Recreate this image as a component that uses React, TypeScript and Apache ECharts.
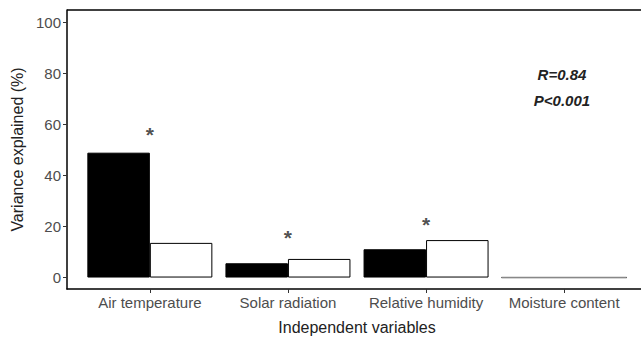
import React, { useEffect, useRef } from "react";
import * as echarts from "echarts";

const categories = ["Air temperature", "Solar radiation", "Relative humidity", "Moisture content"];
const seriesA = [49.0, 5.6, 11.1, 0];
const seriesB = [13.6, 7.3, 14.7, 0];
const starValues: (number | null)[] = [56.9, 16.6, 21.7, null];
const yTicks = [0, 20, 40, 60, 80, 100];
const annotations = ["R=0.84", "P<0.001"];

export default function App() {
  const ref = useRef<HTMLDivElement>(null);
  useEffect(() => {
    document.body.style.margin = "0";
    const chart = echarts.init(ref.current!, null, { renderer: "svg" });
    const pos = categories.map((_, i) => i + 1);
    chart.setOption({
      animation: false,
      textStyle: { fontFamily: "Liberation Sans, Arial, sans-serif" },
      grid: { left: 67, top: 10, width: 580, height: 279, containLabel: false, outerBoundsMode: "none" },
      xAxis: {
        type: "value",
        min: 0.4,
        max: 4.6,
        splitLine: { show: false },
        axisLine: { show: true, onZero: false, lineStyle: { color: "#000", width: 1.5 } },
        axisTick: { show: true, customValues: pos, length: 4, lineStyle: { color: "#333", width: 1 } },
        axisLabel: {
          customValues: pos,
          formatter: (v: number) => categories[Math.round(v) - 1] ?? "",
          color: "#4d4d4d",
          fontSize: 15,
          margin: 6,
        },
        name: "Independent variables",
        nameLocation: "middle",
        nameGap: 30,
        nameTextStyle: { color: "#222", fontSize: 16 },
      },
      yAxis: {
        type: "value",
        min: -4.5,
        max: 105,
        splitLine: { show: false },
        axisLine: { show: true, onZero: false, lineStyle: { color: "#000", width: 1.5 } },
        axisTick: { show: true, customValues: yTicks, length: 4, lineStyle: { color: "#333", width: 1 } },
        axisLabel: { customValues: yTicks, color: "#4d4d4d", fontSize: 15, margin: 6 },
        name: "Variance explained (%)",
        nameLocation: "middle",
        nameGap: 39,
        nameTextStyle: { color: "#222", fontSize: 16 },
      },
      graphic: [
        {
          type: "line",
          shape: { x1: 67, y1: 10, x2: 641, y2: 10 },
          style: { stroke: "#000", lineWidth: 1.5 },
        },
        {
          type: "text",
          x: 562,
          y: 74,
          style: {
            text: annotations[0],
            font: "italic bold 15px Liberation Sans, Arial, sans-serif",
            fill: "#222",
            align: "center",
            verticalAlign: "middle",
          },
        },
        {
          type: "text",
          x: 562,
          y: 100,
          style: {
            text: annotations[1],
            font: "italic bold 15px Liberation Sans, Arial, sans-serif",
            fill: "#222",
            align: "center",
            verticalAlign: "middle",
          },
        },
      ],
      series: [
        {
          type: "bar",
          data: seriesA.map((v, i) => [pos[i], v]),
          barWidth: 62.5,
          barGap: "0%",
          itemStyle: { color: "#000", borderColor: "#000", borderWidth: 1 },
        },
        {
          type: "bar",
          data: seriesB.map((v, i) => [pos[i], v]),
          barWidth: 62.5,
          barGap: "0%",
          itemStyle: { color: "#fff", borderColor: "#000", borderWidth: 1 },
        },
        {
          type: "scatter",
          data: starValues.map((v, i) => (v == null ? null : [pos[i], v])).filter((d) => d),
          symbolSize: 0,
          label: {
            show: true,
            position: "inside",
            formatter: "*",
            fontSize: 21,
            fontWeight: "bold",
            color: "#222",
            offset: [0, 2],
          },
        },
        {
          type: "line",
          data: [[3.547, 0], [4.453, 0]],
          symbol: "none",
          lineStyle: { color: "#888", width: 1.5 },
          z: 5,
        },
      ],
    });
    return () => chart.dispose();
  }, []);
  return <div ref={ref} style={{ width: 641, height: 337 }} />;
}
